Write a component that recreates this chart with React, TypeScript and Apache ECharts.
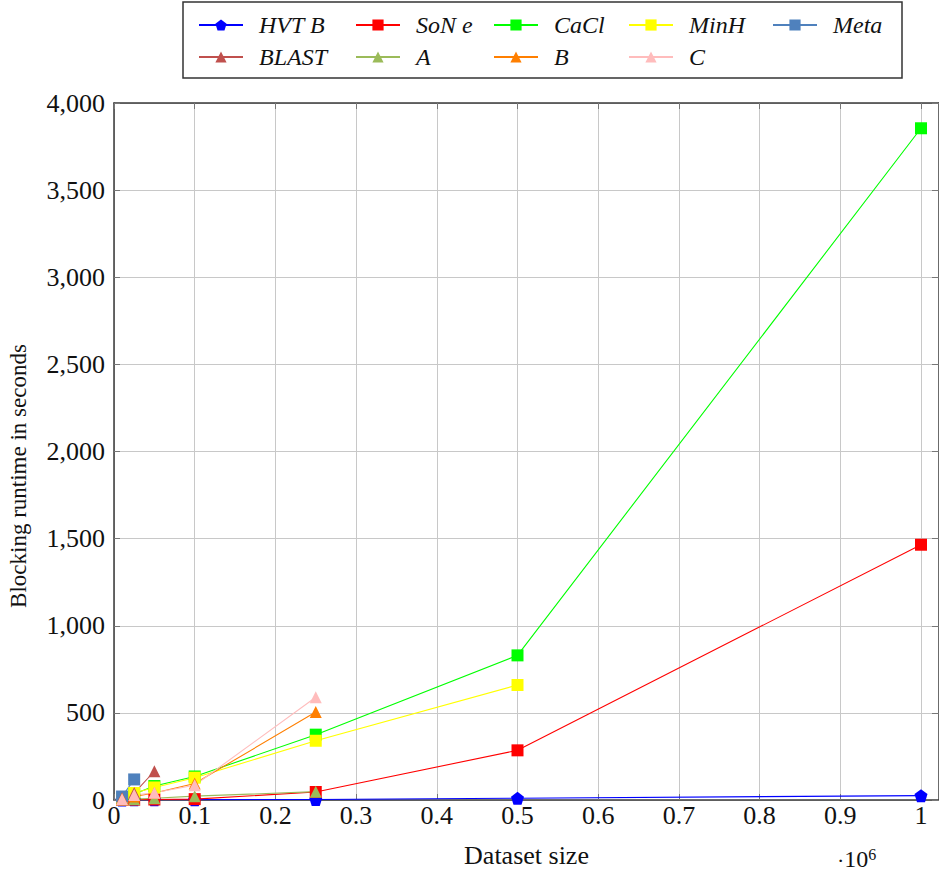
import React, { useEffect, useRef } from "react";
import * as echarts from "echarts";

const sizes = [10000, 25000, 50000, 100000, 250000, 500000, 1000000];
const hvtB = [0.5, 1, 1.5, 2, 3, 10, 25];
const sonE = [1, 2, 3, 5, 46, 285, 1465];
const caCl = [8, 35, 80, 135, 375, 830, 3855];
const minH = [6, 40, 72, 128, 340, 660];
const meta = [20, 118];
const blast = [10, 40, 165];
const serA = [3, 5, 10, 22, 48];
const serB = [5, 20, 40, 95, 505];
const serC = [5, 28, 42, 85, 590];

const yTicks = [0, 500, 1000, 1500, 2000, 2500, 3000, 3500, 4000];

const pentagon = "path://M0,-1 L0.951,-0.309 L0.588,0.809 L-0.588,0.809 L-0.951,-0.309 Z";

const serif = "Liberation Serif";
const AXIS = "#3a3a3a";

function mk(name: string, vals: number[], color: string, symbol: string, size: number) {
  return {
    name,
    type: "line",
    data: vals.map((v, i) => [sizes[i], v]),
    symbol,
    symbolSize: size,
    showSymbol: true,
    lineStyle: { color, width: 1.1 },
    itemStyle: { color, borderWidth: 0 },
    emphasis: { disabled: true },
  };
}

export default function App() {
  const ref = useRef<HTMLDivElement>(null);
  useEffect(() => {
    const chart = echarts.init(ref.current!, null, { renderer: "svg" });
    const legendText = { fontFamily: serif, fontStyle: "italic", fontSize: 24, color: "#111", padding: [0, 0, 0, 11] };
    const legendBase = {
      orient: "vertical",
      top: 8,
      itemWidth: 44,
      itemHeight: 14,
      itemGap: 8,
      textStyle: legendText,
      selectedMode: false,
    };
    chart.setOption({
      animation: false,
      backgroundColor: "#fff",
      grid: { left: 114, right: 0, top: 103, bottom: 77 },
      legend: [
        { ...legendBase, left: 193, data: ["HVT B", "BLAST"] },
        { ...legendBase, left: 350, data: ["SoN e", "A"] },
        { ...legendBase, left: 488, data: ["CaCl", "B"] },
        { ...legendBase, left: 623, data: ["MinH", "C"] },
        { ...legendBase, left: 767, data: ["Meta"] },
      ],
      graphic: [
        {
          type: "rect",
          shape: { x: 183, y: 2, width: 719, height: 76 },
          style: { fill: "none", stroke: "#333", lineWidth: 1.5 },
        },
        {
          type: "text",
          x: 18,
          y: 476,
          rotation: Math.PI / 2,
          style: {
            text: "Blocking runtime in seconds",
            fontFamily: serif,
            fontSize: 23,
            fill: "#111",
            align: "center",
            verticalAlign: "middle",
          },
        },
        {
          type: "text",
          left: 837,
          top: 846,
          style: {
            text: "{d|·}{n|10}{s|6}",
            rich: {
              d: { fontFamily: serif, fontSize: 22, fill: "#111", verticalAlign: "bottom" },
              n: { fontFamily: serif, fontSize: 24, fill: "#111", verticalAlign: "bottom" },
              s: { fontFamily: serif, fontSize: 16, fill: "#111", verticalAlign: "top", padding: [0, 0, 9, 0] },
            },
          },
        },
      ],
      xAxis: [
        {
          type: "value",
          min: 0,
          max: 1022300,
          interval: 100000,
          name: "Dataset size",
          nameLocation: "middle",
          nameGap: 42,
          nameTextStyle: { fontFamily: serif, fontSize: 26, color: "#111" },
          axisLine: { show: true, lineStyle: { color: AXIS, width: 1.5 } },
          axisTick: { show: true, inside: true, length: 6, lineStyle: { color: "#777" } },
          axisLabel: {
            fontFamily: serif,
            fontSize: 26,
            color: "#111",
            margin: 2,
            showMaxLabel: false,
            formatter: (v: number) => (v > 1000000 ? "" : String(parseFloat((v / 1e6).toFixed(2)))),
          },
          splitLine: { show: true, lineStyle: { color: "#c8c8c8", width: 1 } },
        },
        {
          type: "value",
          position: "top",
          min: 0,
          max: 1022300,
          interval: 100000,
          axisLine: { show: true, onZero: false, lineStyle: { color: AXIS, width: 1.5 } },
          axisTick: { show: true, inside: true, length: 6, lineStyle: { color: "#777" } },
          axisLabel: { show: false },
          splitLine: { show: false },
        },
      ],
      yAxis: [
        {
          type: "value",
          min: yTicks[0],
          max: yTicks[yTicks.length - 1],
          interval: 500,
          axisLine: { show: true, onZero: false, lineStyle: { color: AXIS, width: 1.5 } },
          axisTick: { show: true, inside: true, length: 6, lineStyle: { color: "#777" } },
          axisLabel: {
            fontFamily: serif,
            fontSize: 26,
            color: "#111",
            margin: 9,
            formatter: (v: number) => v.toLocaleString("en-US"),
          },
          splitLine: { show: true, lineStyle: { color: "#c8c8c8", width: 1 } },
        },
        {
          type: "value",
          position: "right",
          min: 0,
          max: 4000,
          interval: 500,
          axisLine: { show: true, onZero: false, lineStyle: { color: AXIS, width: 1.5 } },
          axisTick: { show: true, inside: true, length: 7, lineStyle: { color: "#777" } },
          axisLabel: { show: false },
          splitLine: { show: false },
        },
      ],
      series: [
        mk("HVT B", hvtB, "#0000ff", pentagon, 13),
        mk("SoN e", sonE, "#ff0000", "rect", 12),
        mk("CaCl", caCl, "#00ff00", "rect", 12),
        mk("MinH", minH, "#ffff00", "rect", 12),
        mk("Meta", meta, "#4f81bd", "rect", 12),
        mk("BLAST", blast, "#c0504d", "triangle", 12),
        mk("A", serA, "#9bbb59", "triangle", 12),
        mk("B", serB, "#ff7f00", "triangle", 12),
        mk("C", serC, "#ffbcbc", "triangle", 12),
      ],
    });
    return () => chart.dispose();
  }, []);
  return (
    <div
      ref={ref}
      style={{ position: "absolute", left: 0, top: 0, width: 939, height: 877 }}
    />
  );
}
